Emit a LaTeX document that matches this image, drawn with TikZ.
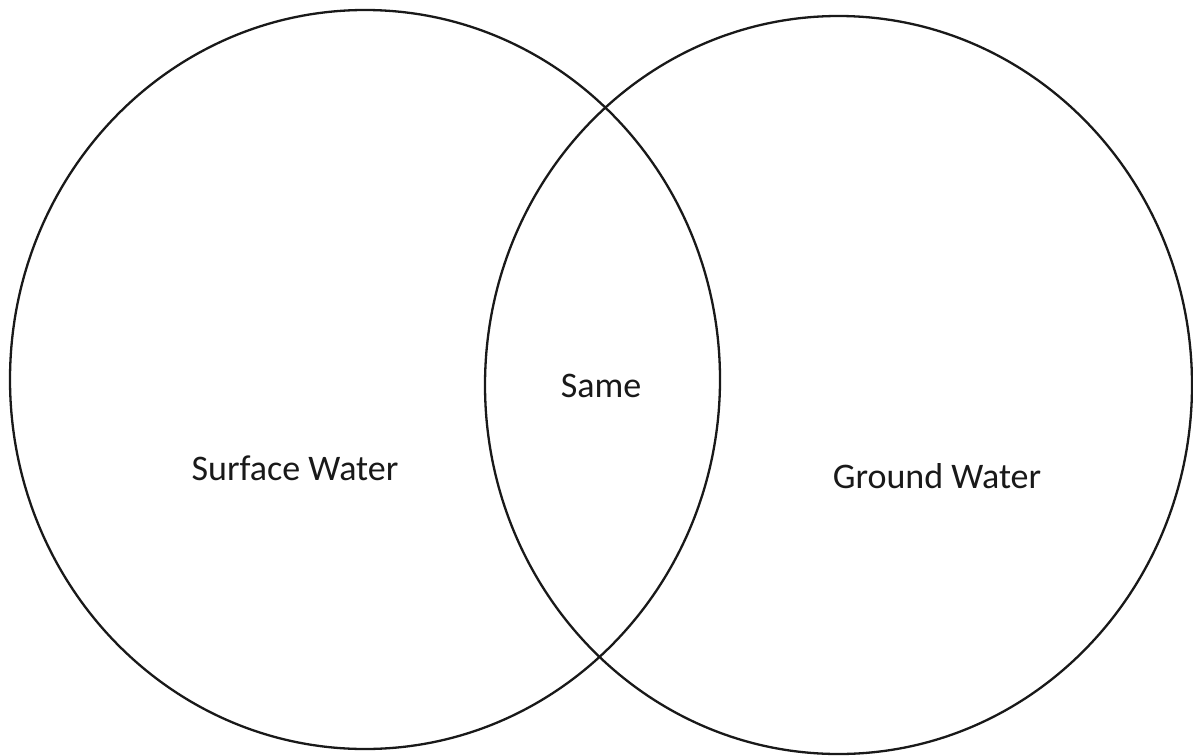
\documentclass[tikz,border=0pt]{standalone}
\usepackage{fontspec}
\setmainfont{Carlito}
\usetikzlibrary{shapes.geometric}
\begin{document}
\begin{tikzpicture}[x=1pt,y=-1pt,
  venn/.style={draw=black!90, line width=2.3pt, ellipse, inner sep=0pt},
  lbl/.style={anchor=base, inner sep=0pt, text=black!90, font=\fontsize{36}{42}\selectfont}]
\path[use as bounding box, fill=white] (0,0) rectangle (1193,755);
\node[venn, minimum width=710pt, minimum height=739pt] (left) at (365,379.5) {};
\node[venn, minimum width=707pt, minimum height=738pt] (right) at (838.5,385) {};
\node[lbl] (sw) at (295,480) {Surface Water};
\node[lbl] (same) at (601,397) {Same};
\node[lbl] (gw) at (937,488) {Ground Water};
\end{tikzpicture}
\end{document}
